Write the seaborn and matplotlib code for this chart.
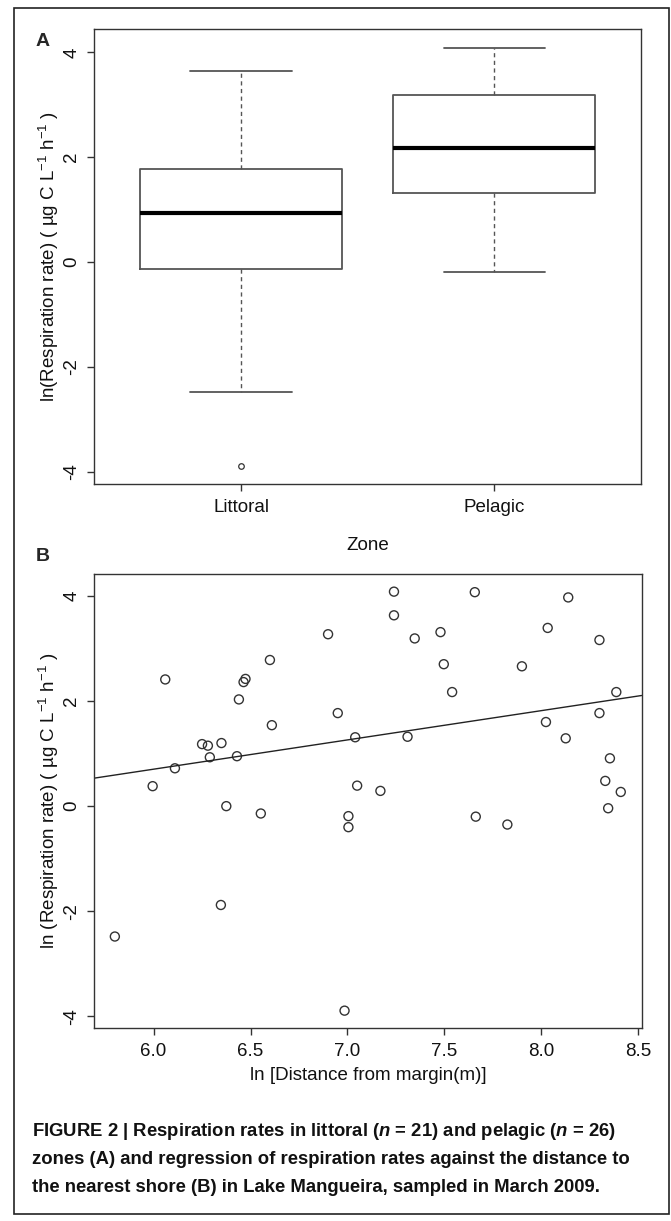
import numpy as np
import pandas as pd
import seaborn as sns
import matplotlib.pyplot as plt
from matplotlib.patches import Rectangle

# Panel A: box summaries (ln respiration rate)
zones = ['Littoral', 'Pelagic']
box_low = [-2.48, -0.20]
box_q1 = [-0.13, 1.31]
box_median = [0.94, 2.18]
box_q3 = [1.78, 3.19]
box_high = [3.64, 4.09]
box_outliers = [[-3.89], []]

# Panel B: ln distance from margin vs ln respiration rate
distance = [5.80, 5.995, 6.06, 6.11, 6.25, 6.28, 6.29, 6.35, 6.347, 6.375,
            6.43, 6.44, 6.464, 6.474, 6.553, 6.60, 6.61, 6.90, 6.95, 6.985,
            7.005, 7.005, 7.04, 7.05, 7.17, 7.24, 7.24, 7.31, 7.347, 7.48,
            7.497, 7.54, 7.657, 7.662, 7.825, 7.90, 8.024, 8.033, 8.126, 8.139,
            8.30, 8.30, 8.33, 8.345, 8.354, 8.387, 8.41]
respiration = [-2.48, 0.38, 2.41, 0.72, 1.18, 1.15, 0.93, 1.20, -1.88, 0.00,
               0.95, 2.03, 2.36, 2.42, -0.14, 2.78, 1.54, 3.27, 1.77, -3.89,
               -0.19, -0.40, 1.31, 0.39, 0.29, 4.08, 3.63, 1.32, 3.19, 3.31,
               2.70, 2.17, 4.07, -0.20, -0.35, 2.66, 1.60, 3.39, 1.29, 3.97,
               3.16, 1.77, 0.48, -0.04, 0.91, 2.17, 0.27]

y_ticks = [-4, -2, 0, 2, 4]
x_ticks_b = [6.0, 6.5, 7.0, 7.5, 8.0, 8.5]

sns.set_theme(style='ticks')
plt.rcParams['font.family'] = ['Liberation Sans', 'DejaVu Sans']
plt.rcParams['mathtext.fontset'] = 'custom'
plt.rcParams['mathtext.rm'] = 'Liberation Sans'
plt.rcParams['mathtext.it'] = 'Liberation Sans:italic:bold'

W, H = 671, 1221
fig = plt.figure(figsize=(W / 100, H / 100), dpi=100)
fig.patch.set_facecolor('white')


def px_axes(left, top, right, bottom):
    return fig.add_axes([left / W, 1 - bottom / H, (right - left) / W, (bottom - top) / H])


def style_axes(ax):
    ax.set_facecolor('white')
    for sp in ax.spines.values():
        sp.set_visible(True)
        sp.set_color('#333333')
        sp.set_linewidth(1.0)
    ax.tick_params(direction='out', length=5, width=1.0, color='#333333',
                   labelsize=13.5, labelcolor='#111111')
    ax.tick_params(axis='x', pad=6)
    ax.tick_params(axis='y', pad=5)


ylab = 'ln(Respiration rate) ( µg C L$^{-1}$ h$^{-1}$ )'

# ---- Panel A: boxplot
axA = px_axes(94.3, 29.3, 641, 483.7)
style_axes(axA)
stats = []
for i, z in enumerate(zones):
    stats.append(dict(label=z, whislo=box_low[i], q1=box_q1[i], med=box_median[i],
                      q3=box_q3[i], whishi=box_high[i], fliers=box_outliers[i]))
axA.bxp(stats, positions=[0, 1], widths=0.8, showfliers=True,
        boxprops=dict(color='#555555', linewidth=1.3),
        medianprops=dict(color='black', linewidth=3),
        whiskerprops=dict(color='#555555', linewidth=1.0, linestyle=(0, (3, 2.5))),
        capprops=dict(color='#555555', linewidth=1.3),
        flierprops=dict(marker='o', markerfacecolor='none', markeredgecolor='#333333',
                        markersize=4, markeredgewidth=0.9))
axA.set_xlim(-0.58, 1.58)
axA.set_ylim(-4.23, 4.44)
axA.set_xticks([0, 1])
axA.set_xticklabels(zones)
axA.set_yticks(y_ticks)
axA.set_yticklabels([str(t) for t in y_ticks], rotation=90, va='center')
axA.set_xlabel('Zone', fontsize=13.5, color='#111111')
axA.xaxis.label.set_va('center')
axA.xaxis.set_label_coords(0.5, (483.7 - 545) / 454.4)
axA.set_ylabel(ylab, fontsize=13.5, color='#111111')
axA.yaxis.label.set_va('center')
axA.yaxis.set_label_coords((49 - 94.3) / 546.7, 0.5)

# ---- Panel B: scatter with regression line
df = pd.DataFrame({'distance': distance, 'respiration': respiration})
axB = px_axes(94.3, 574.3, 641.7, 1028)
style_axes(axB)
axB.set_xlim(5.694, 8.518)
axB.set_ylim(-4.22, 4.41)
sns.regplot(data=df, x='distance', y='respiration', ax=axB, scatter=False, ci=None,
            truncate=False, line_kws=dict(color='#222222', linewidth=1.0))
sns.scatterplot(data=df, x='distance', y='respiration', ax=axB, marker='o',
                facecolor='none', edgecolor='#333333', linewidth=1.0, s=42)
axB.set_xlim(5.694, 8.518)
axB.set_ylim(-4.22, 4.41)
axB.set_xticks(x_ticks_b)
axB.set_xticklabels([f'{t:.1f}' for t in x_ticks_b])
axB.set_yticks(y_ticks)
axB.set_yticklabels([str(t) for t in y_ticks], rotation=90, va='center')
axB.set_xlabel('ln [Distance from margin(m)]', fontsize=13.5, color='#111111')
axB.xaxis.label.set_va('center')
axB.xaxis.set_label_coords(0.5, (1028 - 1075) / 453.7)
axB.set_ylabel('ln (Respiration rate) ( µg C L$^{-1}$ h$^{-1}$ )', fontsize=13.5, color='#111111')
axB.yaxis.label.set_va('center')
axB.yaxis.set_label_coords((49 - 94.3) / 547.4, 0.5)

# panel letters
fig.text(43 / W, 1 - 42 / H, 'A', fontsize=14, fontweight='bold', ha='center', va='center')
fig.text(43 / W, 1 - 557 / H, 'B', fontsize=14, fontweight='bold', ha='center', va='center')

# outer frame
fig.add_artist(Rectangle((13.7 / W, 1 - 1214 / H), (669 - 13.7) / W, (1214 - 8) / H,
                         transform=fig.transFigure, fill=False, lw=1.2, ec='#222222'))

# caption
caption = [
    r'FIGURE 2 | Respiration rates in littoral ($\mathit{n}$ = 21) and pelagic ($\mathit{n}$ = 26)',
    'zones (A) and regression of respiration rates against the distance to',
    'the nearest shore (B) in Lake Mangueira, sampled in March 2009.',
]
for i, line in enumerate(caption):
    fig.text(32 / W, 1 - (1131 + 28 * i) / H, line, fontsize=13.3, fontweight='bold',
             ha='left', va='center', color='#111111')

fig.savefig('out.png', dpi=100)
